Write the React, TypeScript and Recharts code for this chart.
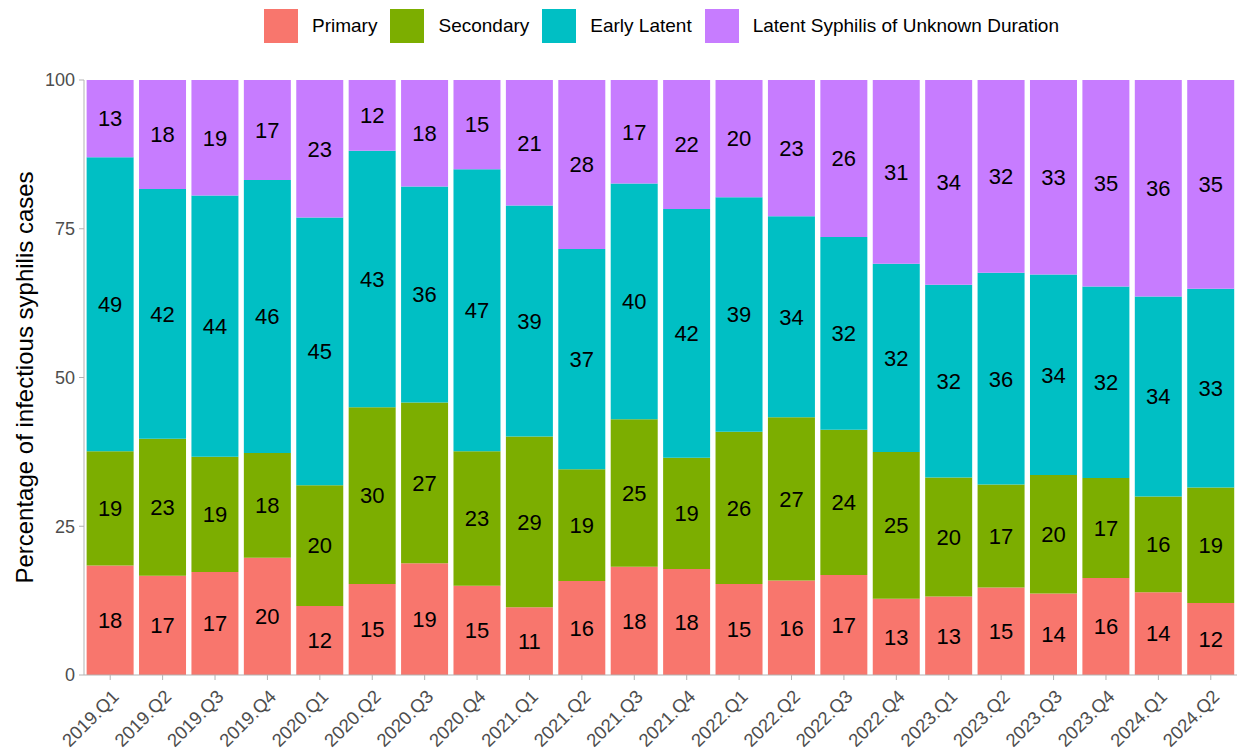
import React from "react";
import {
  BarChart,
  Bar,
  XAxis,
  YAxis,
  LabelList,
} from "recharts";

const quarters = [
  "2019.Q1", "2019.Q2", "2019.Q3", "2019.Q4",
  "2020.Q1", "2020.Q2", "2020.Q3", "2020.Q4",
  "2021.Q1", "2021.Q2", "2021.Q3", "2021.Q4",
  "2022.Q1", "2022.Q2", "2022.Q3", "2022.Q4",
  "2023.Q1", "2023.Q2", "2023.Q3", "2023.Q4",
  "2024.Q1", "2024.Q2",
];

// percentages
const primary = [
  18.4, 16.7, 17.3, 19.7, 11.6, 15.3, 18.8, 15.0, 11.4, 15.8, 18.2,
  17.8, 15.3, 15.9, 16.8, 12.8, 13.2, 14.7, 13.7, 16.3, 13.9, 12.1,
];
const secondary = [
  19.2, 23.0, 19.4, 17.6, 20.3, 29.7, 27.0, 22.6, 28.7, 18.8, 24.8,
  18.7, 25.6, 27.4, 24.4, 24.7, 20.0, 17.3, 19.9, 16.8, 16.1, 19.4,
];
const earlyLatent = [
  49.4, 42.0, 43.9, 45.9, 45.0, 43.1, 36.3, 47.4, 38.8, 37.0, 39.6,
  41.8, 39.4, 33.8, 32.4, 31.6, 32.4, 35.6, 33.7, 32.2, 33.6, 33.4,
];
const unknownDuration = [
  13.0, 18.3, 19.4, 16.8, 23.1, 11.9, 17.9, 15.0, 21.1, 28.4, 17.4,
  21.7, 19.7, 22.9, 26.4, 30.9, 34.4, 32.4, 32.7, 34.7, 36.4, 35.1,
];

const yTicks = [0, 25, 50, 75, 100];

const series = [
  { key: "primary", name: "Primary", color: "#F8766D" },
  { key: "secondary", name: "Secondary", color: "#7CAE00" },
  { key: "earlyLatent", name: "Early Latent", color: "#00BFC4" },
  { key: "unknown", name: "Latent Syphilis of Unknown Duration", color: "#C77CFF" },
];

const data = quarters.map((q, i) => ({
  quarter: q,
  primary: primary[i],
  secondary: secondary[i],
  earlyLatent: earlyLatent[i],
  unknown: unknownDuration[i],
}));

const FONT = "'Liberation Sans', Arial, Helvetica, sans-serif";
const BORDER = "#b3b3b3";

const QuarterTick = ({ x, y, payload }: { x?: number; y?: number; payload?: { value: string } }) => {
  const ty = (y ?? 0) + 5;
  return (
    <text
      x={x}
      y={ty}
      dy="0.75em"
      textAnchor="end"
      transform={`rotate(-45, ${x}, ${ty})`}
      fontSize={18.5}
      fill="#4d4d4d"
      fontFamily={FONT}
    >
      {payload?.value}
    </text>
  );
};

export default function App() {
  return (
    <div
      style={{
        position: "absolute",
        left: 0,
        top: 0,
        width: 1238,
        height: 754,
        background: "#fff",
        fontFamily: FONT,
      }}
    >
      <div
        style={{
          position: "absolute",
          top: 9,
          left: 264,
          display: "flex",
          alignItems: "center",
          height: 34,
        }}
      >
        {series.map((s) => (
          <div key={s.key} style={{ display: "flex", alignItems: "center", marginRight: 13 }}>
            <span style={{ width: 34, height: 34, background: s.color, display: "inline-block" }} />
            <span style={{ marginLeft: 14, fontSize: 19, color: "#000" }}>{s.name}</span>
          </div>
        ))}
      </div>
      <BarChart
        width={1238}
        height={754}
        data={data}
        margin={{ top: 80, right: 1, left: 0, bottom: 0 }}
        barCategoryGap="5%"
      >
        <XAxis
          xAxisId="top"
          orientation="top"
          dataKey="quarter"
          height={0}
          tick={false}
          tickLine={false}
          axisLine={{ stroke: BORDER }}
        />
        <XAxis
          dataKey="quarter"
          height={79}
          interval={0}
          tick={<QuarterTick />}
          tickSize={5}
          tickMargin={3}
          tickLine={{ stroke: BORDER }}
          axisLine={{ stroke: BORDER }}
        />
        <YAxis
          yAxisId="right"
          orientation="right"
          width={0}
          domain={[0, 100]}
          tick={false}
          tickLine={false}
          axisLine={{ stroke: BORDER }}
        />
        <YAxis
          width={84}
          domain={[0, 100]}
          ticks={yTicks}
          allowDataOverflow
          tickSize={5}
          tickMargin={4}
          tick={{ fill: "#4d4d4d", fontSize: 18, fontFamily: FONT }}
          tickLine={{ stroke: BORDER }}
          axisLine={{ stroke: BORDER }}
          label={{
            value: "Percentage of infectious syphilis cases",
            angle: -90,
            position: "insideLeft",
            offset: 24,
            style: { textAnchor: "middle", fontSize: 24, fill: "#000", fontFamily: FONT },
          }}
        />
        {series.map((s) => (
          <Bar
            key={s.key}
            dataKey={s.key}
            name={s.name}
            stackId="a"
            fill={s.color}
            isAnimationActive={false}
          >
            <LabelList
              dataKey={s.key}
              position="center"
              formatter={(v: any) => Math.round(Number(v))}
              fill="#000"
              fontSize={22}
              fontFamily={FONT}
            />
          </Bar>
        ))}
      </BarChart>
    </div>
  );
}
